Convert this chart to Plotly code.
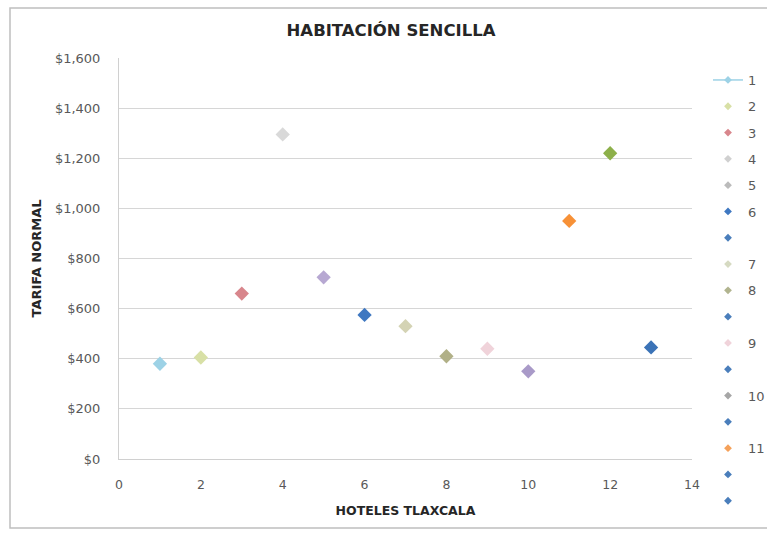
import plotly.graph_objects as go

# Single-room rates per hotel
hoteles = [1, 2, 3, 4, 5, 6, 7, 8, 9, 10, 11, 12, 13]
tarifa = [380, 405, 660, 1295, 725, 575, 530, 410, 440, 350, 950, 1220, 445]
colores_puntos = ["#9DD2E6", "#D8E0A6", "#D8868C", "#D9D9D9", "#B7A8D2", "#3F78C1",
                  "#D4D3B4", "#B1B087", "#F0D3DA", "#A99AC8", "#F79137", "#8DB04A", "#3B73B7"]

# Legend entries (series names and their swatch colours)
leyenda_nombres = ["1", "2", "3", "4", "5", "6", "", "7", "8", "", "9", "", "10", "", "11", "", ""]
leyenda_colores = ["#9DD2E6", "#D8E0A6", "#D8868C", "#D0D0D0", "#BBBBBB", "#3F78C1", "#4A7EBB",
                   "#D6DAC2", "#B1B48F", "#4A7EBB", "#F0D3DA", "#4A7EBB", "#A6A6A6", "#4A7EBB",
                   "#F5A15A", "#4A7EBB", "#4A7EBB"]

y_ticks = [0, 200, 400, 600, 800, 1000, 1200, 1400, 1600]
y_ticktext = ["$0", "$200", "$400", "$600", "$800", "$1,000", "$1,200", "$1,400", "$1,600"]
x_ticks = [0, 2, 4, 6, 8, 10, 12, 14]

FONT = "'DejaVu Sans', sans-serif"
GRIS = "#595959"
OSCURO = "#262626"

fig = go.Figure()

# Data points, one per hotel
for h, t, c in zip(hoteles, tarifa, colores_puntos):
    fig.add_trace(go.Scatter(
        x=[h], y=[t], mode="markers",
        marker=dict(symbol="diamond", size=11, color=c),
        showlegend=False, hoverinfo="x+y",
    ))

# Legend swatches
for i, (n, c) in enumerate(zip(leyenda_nombres, leyenda_colores)):
    fig.add_trace(go.Scatter(
        x=[None], y=[None],
        mode="lines+markers" if i == 0 else "markers",
        line=dict(color=c, width=1.5),
        marker=dict(symbol="diamond", size=6, color=c),
        name=n, legendgroup=f"g{i}", showlegend=True,
    ))

W, H = 767, 533
L, R, T, B = 119, 75, 58, 74
pw, ph = W - L - R, H - T - B

def px_to_paper_x(px):
    return (px - L) / pw

def px_to_paper_y(py):
    return (H - B - py) / ph

fig.update_layout(
    width=W, height=H,
    margin=dict(l=L, r=R, t=T, b=B, autoexpand=False),
    paper_bgcolor="white", plot_bgcolor="white",
    font=dict(family=FONT, color=GRIS, size=12),
    title=dict(text="<b>HABITACIÓN SENCILLA</b>", x=391 / W, xanchor="center",
               y=1 - 30 / H, yanchor="middle",
               font=dict(family=FONT, size=16.5, color=OSCURO)),
    xaxis=dict(range=[0, 14], tickvals=x_ticks, showgrid=False, zeroline=False,
               showline=True, linecolor="#D0D0D0", linewidth=1,
               ticks="", ticklabelstandoff=14,
               tickfont=dict(family=FONT, size=12.5, color=GRIS),
               title=dict(text="<b>HOTELES TLAXCALA</b>", standoff=15,
                          font=dict(family=FONT, size=12.5, color=OSCURO))),
    yaxis=dict(range=[0, 1600], tickvals=y_ticks, ticktext=y_ticktext,
               showgrid=True, gridcolor="#D6D6D6", gridwidth=1, zeroline=False,
               showline=True, linecolor="#D0D0D0", linewidth=1,
               ticks="", ticklabelstandoff=15,
               tickfont=dict(family=FONT, size=13, color=GRIS),
               title=dict(text="<b>TARIFA NORMAL</b>", standoff=10,
                          font=dict(family=FONT, size=13, color=OSCURO))),
    legend=dict(x=px_to_paper_x(708), xanchor="left", y=px_to_paper_y(65), yanchor="top",
                tracegroupgap=6.4, font=dict(family=FONT, size=13, color=GRIS),
                bgcolor="rgba(0,0,0,0)", itemwidth=30, maxheight=600),
    showlegend=True,
    shapes=[dict(type="rect", xref="paper", yref="paper",
                 x0=px_to_paper_x(10), x1=px_to_paper_x(790),
                 y0=px_to_paper_y(528), y1=px_to_paper_y(8),
                 line=dict(color="#BFBFBF", width=1.5), layer="below")],
)

fig.write_html("out.html")
